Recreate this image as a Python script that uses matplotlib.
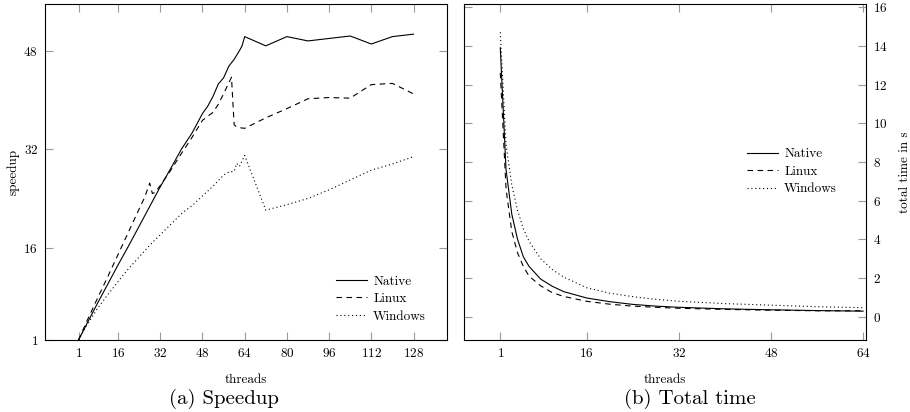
import matplotlib
matplotlib.use("Agg")
import matplotlib.pyplot as plt

plt.rcParams["font.family"] = ["cmr10", "DejaVu Serif"]
plt.rcParams["axes.formatter.use_mathtext"] = True
plt.rcParams["font.size"] = 9.5

# (a) speedup over thread count
spd_threads_native = [1, 4, 8, 12, 16, 20, 24, 28, 32, 36, 40, 44, 48, 50, 52, 54, 56, 58, 60, 62, 63, 64,
                      72, 80, 88, 96, 104, 112, 120, 128]
spd_native = [1, 3.5, 6.8, 10.0, 13.2, 16.3, 19.5, 22.7, 25.9, 28.9, 32.0, 34.6, 37.8, 39.0, 40.6, 42.6,
              43.6, 45.5, 46.6, 48.0, 48.8, 50.3, 48.8, 50.3, 49.6, 50.0, 50.4, 49.1, 50.3, 50.7]

spd_threads_linux = [1, 4, 8, 12, 16, 20, 24, 26, 28, 29, 30, 32, 36, 40, 44, 48, 52, 54, 56, 58, 59,
                     60, 61, 62, 64, 72, 80, 88, 96, 104, 112, 120, 128]
spd_linux = [1, 3.9, 7.6, 11.2, 14.9, 18.6, 22.3, 24.1, 26.5, 24.8, 25.0, 26.1, 28.6, 31.3, 33.9, 36.7,
             38.0, 39.3, 41.0, 42.8, 43.7, 36.0, 35.6, 35.5, 35.4, 37.1, 38.6, 40.2, 40.4, 40.3, 42.5,
             42.7, 41.0]

spd_threads_windows = [1, 4, 8, 12, 16, 20, 24, 28, 32, 36, 40, 42, 44, 48, 52, 56, 58, 60, 61, 62, 64,
                       72, 80, 88, 96, 104, 112, 120, 128]
spd_windows = [1, 3.3, 6.0, 8.3, 10.5, 12.6, 14.5, 16.4, 18.1, 19.8, 21.5, 22.2, 22.8, 24.4, 26.0, 27.8,
               28.3, 28.4, 29.7, 29.2, 31.0, 22.1, 23.0, 24.0, 25.4, 27.0, 28.6, 29.6, 30.8]

# (b) total time in s
time_threads = [1, 2, 3, 4, 5, 6, 8, 10, 12, 16, 20, 24, 28, 32, 40, 48, 56, 64]
time_native = [13.9, 7.6, 5.3, 4.0, 3.1, 2.6, 1.95, 1.58, 1.3, 0.97, 0.78, 0.64, 0.55, 0.49, 0.41, 0.36,
               0.32, 0.29]
time_linux = [12.6, 6.6, 4.4, 3.3, 2.6, 2.1, 1.6, 1.25, 1.05, 0.80, 0.65, 0.55, 0.49, 0.44, 0.38, 0.34,
              0.31, 0.31]
time_windows = [14.7, 8.9, 6.8, 5.5, 4.55, 3.9, 3.0, 2.45, 2.05, 1.5, 1.22, 1.04, 0.9, 0.8, 0.68, 0.6,
                0.52, 0.47]

styles = {
    "Native": dict(color="black", lw=0.8, linestyle="-"),
    "Linux": dict(color="black", lw=0.8, linestyle=(0, (5, 4))),
    "Windows": dict(color="black", lw=0.8, linestyle=(0, (1, 2.5))),
}
legend_kw = dict(frameon=False, handlelength=2.3, handletextpad=0.5, labelspacing=0.4,
                 borderpad=0, borderaxespad=0)


def style_axes(ax):
    for sp in ax.spines.values():
        sp.set_color("black")
        sp.set_linewidth(0.8)
    ax.tick_params(direction="in", length=5.5, width=0.8, color="#999999",
                   top=True, right=True, left=True, bottom=True, pad=5)


fig = plt.figure(figsize=(9.1, 4.12), dpi=100)

# Speedup
ax1 = fig.add_axes([45 / 910, 72 / 412, 402 / 910, 336 / 412])
ax1.plot(spd_threads_native, spd_native, label="Native", **styles["Native"])
ax1.plot(spd_threads_linux, spd_linux, label="Linux", **styles["Linux"])
ax1.plot(spd_threads_windows, spd_windows, label="Windows", **styles["Windows"])
ax1.set_xlim(-11.7, 140.7)
ax1.set_ylim(1, 55.6)
ax1.set_xticks([1, 16, 32, 48, 64, 80, 96, 112, 128])
ax1.set_yticks([1, 16, 32, 48])
style_axes(ax1)
ax1.set_xlabel("threads", labelpad=10)
ax1.set_ylabel("speedup", labelpad=3)
ax1.legend(loc="lower right", bbox_to_anchor=(0.948, 0.052), **legend_kw)

# Total time
ax2 = fig.add_axes([464 / 910, 72 / 412, 402 / 910, 336 / 412])
ax2.plot(time_threads, time_native, label="Native", **styles["Native"])
ax2.plot(time_threads, time_linux, label="Linux", **styles["Linux"])
ax2.plot(time_threads, time_windows, label="Windows", **styles["Windows"])
ax2.set_xlim(-5.3, 64.5)
ax2.set_ylim(-1.2, 16.16)
ax2.set_xticks([1, 16, 32, 48, 64])
ax2.set_yticks(range(0, 17, 2))
style_axes(ax2)
ax2.yaxis.tick_right()
ax2.tick_params(left=True, direction="in")
ax2.yaxis.set_label_position("right")
ax2.set_xlabel("threads", labelpad=10)
ax2.set_ylabel("total time in s", labelpad=8)
ax2.legend(loc="center right", bbox_to_anchor=(0.928, 0.501), **legend_kw)

fig.text(224 / 910, 1 - 399 / 412, "(a) Speedup", ha="center", va="center", fontsize=15)
fig.text(690 / 910, 1 - 399 / 412, "(b) Total time", ha="center", va="center", fontsize=15)

fig.savefig("out.png", dpi=100)
